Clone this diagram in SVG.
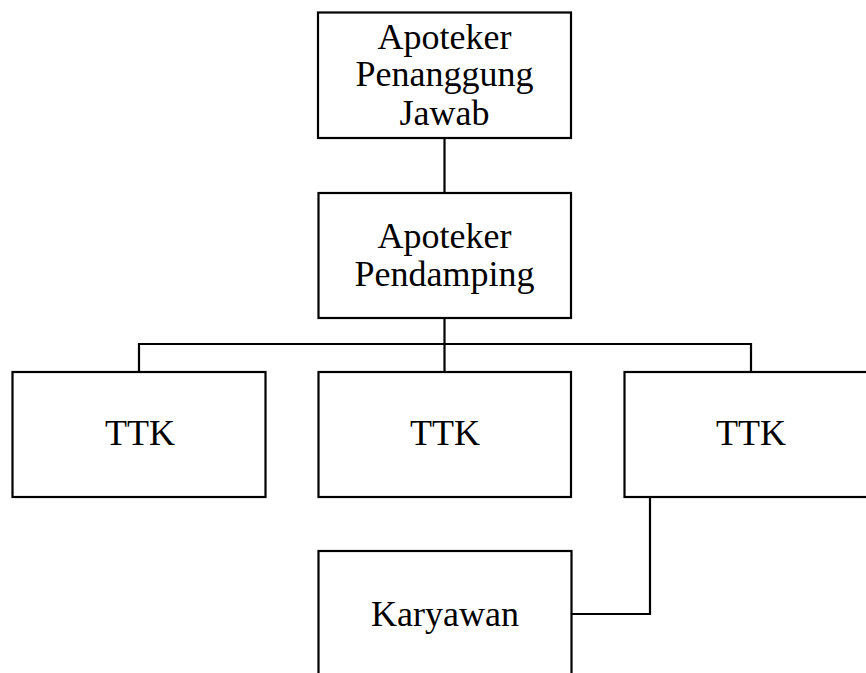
<svg xmlns="http://www.w3.org/2000/svg" width="866" height="673" viewBox="0 0 866 673">
<style>
.box{fill:#fff;stroke:#000;stroke-width:2.2}
.conn{fill:none;stroke:#000;stroke-width:2.2}
text{font-family:"Liberation Serif","Times New Roman",serif;font-size:36px;fill:#000;text-anchor:middle}
</style>
<rect width="866" height="673" fill="#fff"/>
<g id="connectors">
<line class="conn" x1="444.5" y1="138" x2="444.5" y2="193"/>
<line class="conn" x1="444.5" y1="318" x2="444.5" y2="372"/>
<polyline class="conn" points="139,372 139,344 751,344 751,372"/>
<polyline class="conn" points="650,497 650,614 572,614"/>
</g>
<g id="apj">
<rect class="box" x="318" y="12.5" width="253" height="125.5"/>
<text x="444.5" y="49">Apoteker</text>
<text x="444.5" y="86">Penanggung</text>
<text x="444.5" y="125">Jawab</text>
</g>
<g id="ap">
<rect class="box" x="318.5" y="193" width="252.5" height="125"/>
<text x="444.5" y="248">Apoteker</text>
<text x="444.5" y="286">Pendamping</text>
</g>
<g id="ttk1">
<rect class="box" x="12.5" y="372" width="253" height="125"/>
<text x="140" y="445">TTK</text>
</g>
<g id="ttk2">
<rect class="box" x="318.5" y="372" width="252.5" height="125"/>
<text x="445" y="445">TTK</text>
</g>
<g id="ttk3">
<rect class="box" x="624.5" y="372" width="253" height="125"/>
<text x="751" y="445">TTK</text>
</g>
<g id="karyawan">
<rect class="box" x="318.5" y="551" width="253" height="140"/>
<text x="445" y="626">Karyawan</text>
</g>
</svg>
